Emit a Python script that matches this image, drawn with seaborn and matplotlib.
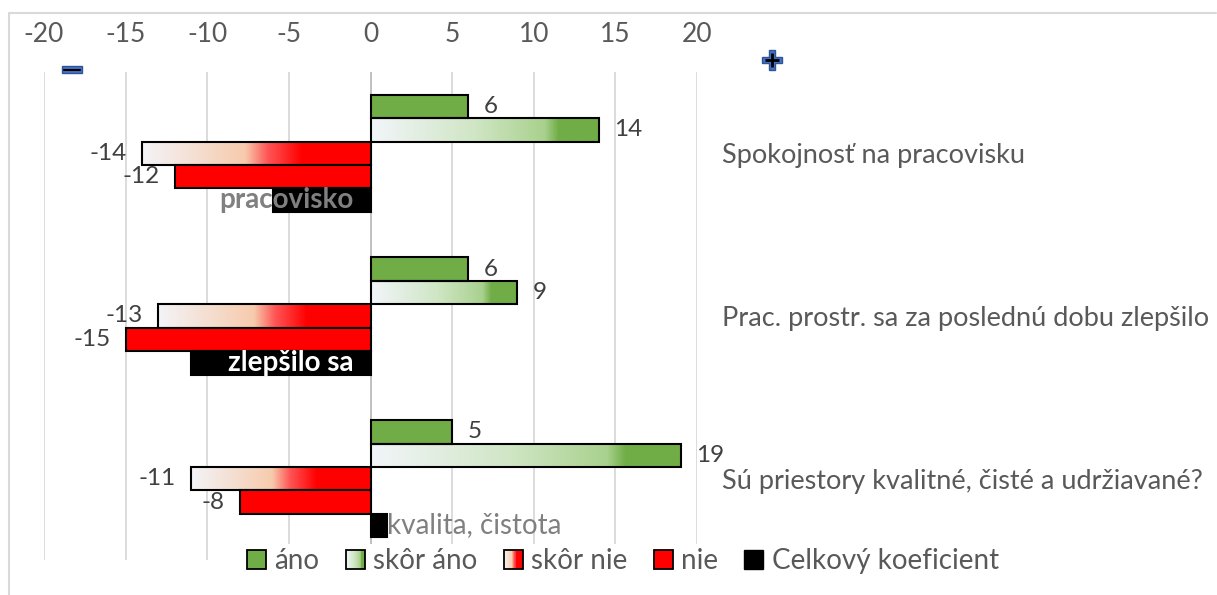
import numpy as np
import pandas as pd
import seaborn as sns
import matplotlib.pyplot as plt
from matplotlib.colors import LinearSegmentedColormap
from matplotlib.patches import Rectangle, Patch
from matplotlib.lines import Line2D
from matplotlib.legend_handler import HandlerBase

# data
otazky = ['Spokojnosť na pracovisku',
          'Prac. prostr. sa za poslednú dobu zlepšilo',
          'Sú priestory kvalitné, čisté a udržiavané?']
odpovede = ['áno', 'skôr áno', 'skôr nie', 'nie', 'Celkový koeficient']
ano = [6, 6, 5]
skor_ano = [14, 9, 19]
skor_nie = [-14, -13, -11]
nie = [-12, -15, -8]
koeficient = [-6, -11, 1]
koef_popisy = ['pracovisko', 'zlepšilo sa', 'kvalita, čistota']
x_ticks = [-20, -15, -10, -5, 0, 5, 10, 15, 20]

df = pd.DataFrame({'otazka': otazky, 'áno': ano, 'skôr áno': skor_ano,
                   'skôr nie': skor_nie, 'nie': nie,
                   'Celkový koeficient': koeficient})
df = df.melt(id_vars='otazka', var_name='odpoved', value_name='hodnota')

farby = {'áno': '#70AD47', 'skôr áno': '#A9D18E', 'skôr nie': '#FF5050',
         'nie': '#FF0000', 'Celkový koeficient': '#000000'}
green_grad = LinearSegmentedColormap.from_list('g', [
    (0.0, '#F2F5FA'), (0.45, '#D0E6C5'), (0.76, '#A9D18E'),
    (0.82, '#70AD47'), (1.0, '#70AD47')])
red_grad = LinearSegmentedColormap.from_list('r', [
    (0.0, '#F3F4F8'), (0.45, '#F7CBAD'), (0.55, '#FF5555'),
    (0.70, '#FF0000'), (1.0, '#FF0000')])

sns.set_theme(style='white')
plt.rcParams['font.family'] = ['Lato', 'DejaVu Sans']
plt.rcParams['axes.unicode_minus'] = False

W, H = 1217, 595
fig = plt.figure(figsize=(W / 100, H / 100), dpi=100)
ax = fig.add_axes([44 / W, 1 - 560 / H, (697 - 44) / W, (560 - 72) / H])

sns.barplot(data=df, y='otazka', x='hodnota', hue='odpoved', hue_order=odpovede,
            orient='h', palette=farby, width=0.72, saturation=1, errorbar=None,
            edgecolor='black', linewidth=1.5, legend=False, ax=ax)

# gradient fill for the "skôr" bars
for cont, cmap in [(ax.containers[1], green_grad), (ax.containers[2], red_grad)]:
    for bar in cont:
        x0, x1 = sorted([bar.get_x(), bar.get_x() + bar.get_width()])
        y0, y1 = bar.get_y(), bar.get_y() + bar.get_height()
        bar.set_facecolor('none')
        grad = np.linspace(0, 1, 256).reshape(1, -1)
        im = ax.imshow(grad, cmap=cmap, extent=[x0, x1, y1, y0], aspect='auto',
                       zorder=bar.get_zorder() - 0.05, interpolation='bilinear')
        im.set_clip_path(bar)

# value labels
for i in range(4):
    ax.bar_label(ax.containers[i], padding=11, fontsize=17.5, color='#404040')

# labels of the coefficient bars
koef_farby = ['#808080', 'white', '#808080']
koef_vaha = ['bold', 'bold', 'normal']
for bar, val, txt, c, w in zip(ax.containers[4], koeficient, koef_popisy, koef_farby, koef_vaha):
    yc = bar.get_y() + bar.get_height() / 2
    s = 1 if val > 0 else -1
    ax.annotate(txt, (0, yc), xytext=(s * 12, 0), textcoords='offset points',
                ha='left' if s > 0 else 'right', va='center', fontsize=20,
                color=c, fontweight=w, zorder=5)

ax.set_xlim(-20, 20)
ax.set_ylim(2.5, -0.5)
ax.set_xticks(x_ticks)
ax.set_xlabel('')
ax.set_ylabel('')
ax.xaxis.tick_top()
ax.yaxis.tick_right()
ax.tick_params(axis='x', length=0, pad=18, labelsize=19, labelcolor='#595959')
ax.tick_params(axis='y', length=0, pad=18, labelsize=19.5, labelcolor='#595959')
for t in ax.get_yticklabels():
    t.set_ha('left')
ax.grid(axis='x', color='#D9D9D9', lw=1.3)
ax.set_axisbelow(True)
ax.axvline(0, color='#BFBFBF', lw=1.3, zorder=0.8)
sns.despine(ax=ax, left=True, bottom=True, top=True, right=True)


class GradientHandler(HandlerBase):
    def __init__(self, cmap):
        super().__init__()
        self.cmap = cmap

    def create_artists(self, legend, orig_handle, xdescent, ydescent,
                       width, height, fontsize, trans):
        n = 24
        parts = []
        for k in range(n):
            parts.append(Rectangle((-xdescent + width * k / n, -ydescent), width / n + 0.3,
                                   height, facecolor=self.cmap((k + 0.5) / n),
                                   edgecolor='none', transform=trans))
        parts.append(Rectangle((-xdescent, -ydescent), width, height, facecolor='none',
                               edgecolor='black', lw=1.3, transform=trans))
        return parts


handles = [Patch(facecolor=farby['áno'], edgecolor='black', lw=1.3),
           Patch(facecolor='white', edgecolor='black'),
           Patch(facecolor='white', edgecolor='black'),
           Patch(facecolor=farby['nie'], edgecolor='black', lw=1.3),
           Patch(facecolor='black', edgecolor='black')]
leg = fig.legend(handles, odpovede, loc='center', bbox_to_anchor=(623 / W, 1 - 561 / H),
                 ncol=5, frameon=True, framealpha=1, facecolor='white', edgecolor='none',
                 fontsize=20, handlelength=0.68, handleheight=0.68, handletextpad=0.3,
                 columnspacing=0.95, borderpad=0.15,
                 handler_map={handles[1]: GradientHandler(green_grad),
                              handles[2]: GradientHandler(red_grad)})
for t in leg.get_texts():
    t.set_color('#595959')

# minus / plus markers and chart border
fig.add_artist(Rectangle((62 / W, 1 - 73 / H), 20 / W, 7 / H, transform=fig.transFigure,
                         facecolor='#4472C4', edgecolor='#2F5597', lw=1))
fig.add_artist(Line2D([64 / W, 80 / W], [1 - 69.5 / H, 1 - 69.5 / H],
                      transform=fig.transFigure, color='black', lw=1.5))
fig.add_artist(Line2D([772 / W], [1 - 60 / H], marker='P', markersize=14,
                      markerfacecolor='#4472C4', markeredgecolor='#2F5597',
                      transform=fig.transFigure))
fig.add_artist(Line2D([772 / W], [1 - 60 / H], marker='+', markersize=10, mew=2,
                      color='black', transform=fig.transFigure))
fig.add_artist(Line2D([9 / W, 9 / W, 1216 / W], [0, 1 - 13 / H, 1 - 13 / H],
                      transform=fig.transFigure, color='#D9D9D9', lw=1.5))

fig.savefig('out.png', dpi=100)
